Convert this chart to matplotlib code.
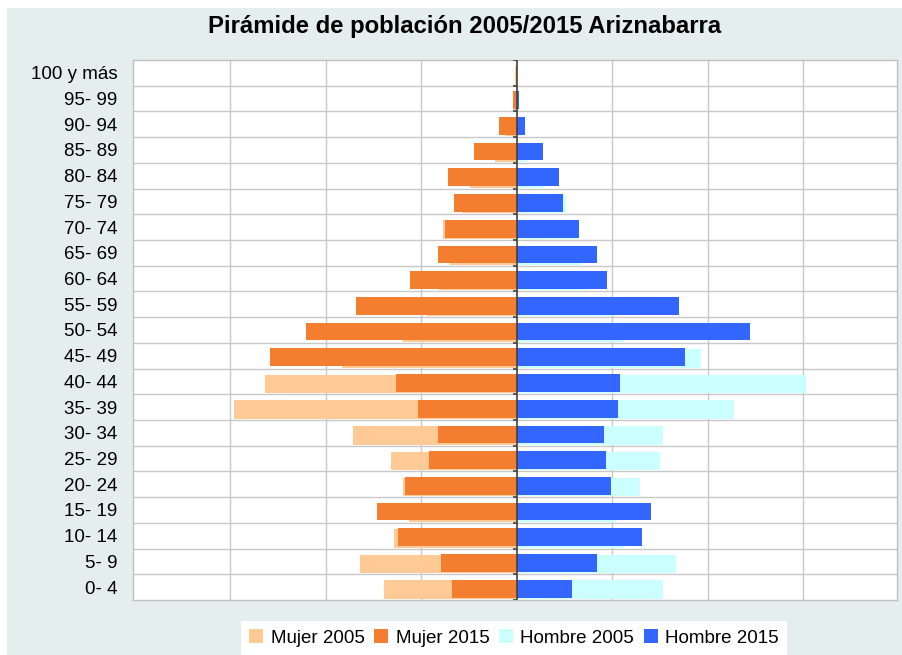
import numpy as np
import matplotlib.pyplot as plt
from matplotlib.patches import Rectangle

plt.rcParams['font.family'] = ['Liberation Sans', 'DejaVu Sans']

# ---- data (bottom age group first) ----
age_groups = ["0- 4", "5- 9", "10- 14", "15- 19", "20- 24", "25- 29", "30- 34",
              "35- 39", "40- 44", "45- 49", "50- 54", "55- 59", "60- 64",
              "65- 69", "70- 74", "75- 79", "80- 84", "85- 89", "90- 94",
              "95- 99", "100 y más"]
mujer_2005 = [139, 164, 129, 113, 119, 132, 172, 296, 264, 183, 119,
              94, 82, 70, 77, 58, 49, 23, 12, 3, 2]
mujer_2015 = [68, 80, 125, 146, 117, 92, 83, 104, 127, 259, 221,
              168, 112, 83, 75, 66, 72, 45, 19, 4, 0]
hombre_2005 = [153, 167, 113, 104, 129, 150, 153, 227, 303, 193, 112,
               104, 76, 68, 63, 51, 27, 11, 4, 1, 0]
hombre_2015 = [58, 84, 131, 140, 98, 93, 91, 106, 108, 176, 244,
               170, 94, 84, 65, 48, 44, 27, 8, 2, 0]

c_m05, c_m15 = "#FFCA96", "#F47E30"
c_h05, c_h15 = "#CCFFFF", "#3366FF"
bg = "#E4EEEC"

fig = plt.figure(figsize=(9.02, 6.55), dpi=100)
fig.patches.append(Rectangle((7 / 902, 0), 1, 1 - 8 / 655, transform=fig.transFigure,
                             facecolor=bg, edgecolor="none", zorder=-10))

ax = fig.add_axes([133 / 902, 55 / 655, 764 / 902, 540 / 655])
ax.set_facecolor("white")

y = np.arange(len(age_groups))
# 2005 bars sit slightly lower, 2015 bars drawn on top
ax.barh(y - 0.10, -np.array(mujer_2005), height=0.72, color=c_m05, label="Mujer 2005", zorder=2)
ax.barh(y - 0.06, -np.array(mujer_2015), height=0.69, color=c_m15, label="Mujer 2015", zorder=3)
ax.barh(y - 0.10, hombre_2005, height=0.72, color=c_h05, label="Hombre 2005", zorder=2)
ax.barh(y - 0.06, hombre_2015, height=0.69, color=c_h15, label="Hombre 2015", zorder=3)

ax.set_xlim(-402, 398)
ax.set_ylim(-0.5, len(age_groups) - 0.5)

# grid
for xv in range(-300, 400, 100):
    if xv != 0:
        ax.axvline(xv, color="#C8C8C8", lw=1, zorder=1)
for yb in y[:-1] + 0.5:
    ax.axhline(yb, color="#C8C8C8", lw=1, zorder=1)

# central axis with small ticks
ax.axvline(0, color="#404040", lw=1.2, zorder=4)
ax.hlines(np.append(y - 0.5, y[-1] + 0.5), -4, 0, color="#404040", lw=1.2, zorder=4)

ax.set_xticks([])
ax.set_yticks(y)
ax.set_yticklabels(age_groups, fontsize=13.5)
ax.tick_params(axis="y", length=0, pad=11)
for s in ax.spines.values():
    s.set_color("#C0C0C0")
    s.set_linewidth(1)

fig.text(0.515, 0.959, "Pirámide de población 2005/2015 Ariznabarra",
         ha="center", va="center", fontsize=17.2, fontweight="bold")

leg = fig.legend(loc="lower center", bbox_to_anchor=(514 / 902, 0), ncol=4,
                 fontsize=13.5, frameon=True, fancybox=False, framealpha=1,
                 facecolor="white", edgecolor="none", handlelength=0.75,
                 handleheight=0.75, handletextpad=0.4, columnspacing=0.5,
                 borderpad=0.45, borderaxespad=0)
leg.get_frame().set_linewidth(0)

fig.savefig("out.png", dpi=100, facecolor="white")
